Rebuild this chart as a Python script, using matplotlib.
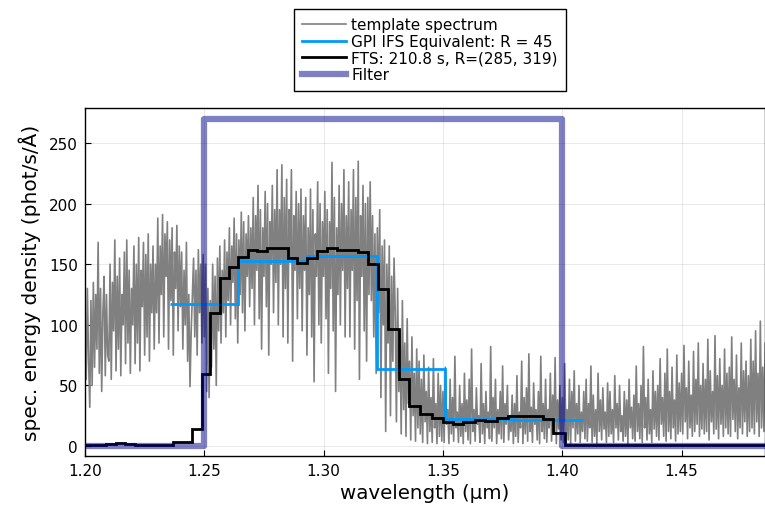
import numpy as np
import matplotlib
matplotlib.use("Agg")
import matplotlib.pyplot as plt

## template spectrum (one row = 0.01 um)
wl_start = 1.20
wl_step = 0.0005
template_flux = [
    100, 55, 130, 70, 32, 120, 50, 135, 65, 125, 80, 168, 60, 130, 45, 110, 140, 58, 125, 75,
    70, 150, 55, 135, 95, 170, 62, 140, 80, 155, 58, 125, 100, 160, 68, 170, 85, 145, 60, 130,
    100, 165, 68, 150, 85, 172, 62, 145, 115, 168, 75, 158, 90, 175, 70, 150, 110, 165, 80, 150,
    110, 188, 85, 165, 125, 191, 90, 175, 140, 185, 80, 170, 120, 180, 75, 160, 130, 182, 95, 165,
    115, 160, 80, 145, 100, 168, 70, 125, 49, 95, 125, 155, 90, 145, 75, 162, 110, 150, 85, 158,
    90, 150, 45, 130, 40, 120, 65, 150, 80, 140, 50, 155, 95, 165, 85, 145, 110, 170, 90, 160,
    120, 180, 100, 165, 135, 188, 105, 175, 85, 170, 125, 193, 110, 185, 95, 175, 140, 190, 115, 180,
    130, 205, 100, 190, 145, 215, 105, 195, 80, 180, 140, 210, 115, 200, 75, 185, 150, 215, 110, 195,
    135, 228, 100, 195, 150, 232, 90, 205, 130, 220, 85, 195, 155, 228, 70, 190, 145, 210, 105, 200,
    130, 212, 95, 190, 145, 205, 75, 180, 125, 212, 90, 195, 53, 175, 140, 218, 100, 200, 85, 185,
    140, 210, 105, 195, 60, 185, 130, 234, 95, 205, 45, 180, 125, 215, 100, 200, 145, 228, 90, 190,
    130, 218, 90, 195, 145, 228, 80, 205, 120, 235, 55, 190, 140, 215, 95, 200, 70, 205, 125, 218,
    120, 190, 90, 175, 60, 180, 110, 195, 40, 165, 100, 170, 12, 150, 85, 165, 25, 140, 70, 155,
    110, 20, 130, 45, 95, 10, 120, 30, 85, 8, 105, 35, 70, 5, 90, 25, 60, 4, 80, 15,
    70, 10, 55, 3, 75, 20, 45, 2, 65, 12, 40, 3, 72, 15, 35, 2, 60, 8, 50, 4,
    45, 3, 65, 18, 30, 2, 55, 10, 40, 4, 74, 15, 28, 3, 50, 8, 35, 2, 60, 12,
    38, 5, 55, 2, 80, 12, 30, 4, 48, 18, 25, 3, 68, 10, 35, 2, 45, 15, 28, 6,
    82, 4, 40, 15, 55, 2, 30, 10, 45, 6, 66, 3, 35, 18, 50, 5, 25, 12, 42, 2,
    35, 8, 58, 3, 28, 15, 70, 2, 40, 10, 48, 4, 76, 12, 32, 3, 52, 18, 30, 5,
    45, 2, 74, 12, 35, 6, 55, 3, 30, 15, 60, 4, 42, 10, 73, 2, 38, 14, 50, 5,
    40, 3, 68, 12, 30, 5, 55, 2, 45, 15, 62, 4, 35, 10, 50, 3, 28, 12, 45, 6,
    55, 4, 35, 15, 66, 3, 42, 8, 30, 2, 60, 12, 38, 5, 48, 14, 28, 3, 52, 8,
    45, 10, 30, 3, 58, 15, 35, 5, 50, 12, 25, 4, 45, 8, 38, 2, 55, 15, 32, 6,
    42, 4, 66, 12, 35, 6, 50, 3, 82, 15, 40, 5, 55, 10, 30, 3, 62, 14, 45, 8,
    50, 5, 72, 18, 40, 8, 60, 4, 80, 12, 45, 6, 65, 15, 38, 4, 75, 10, 52, 12,
    60, 10, 83, 20, 48, 6, 70, 15, 42, 8, 78, 12, 55, 18, 85, 8, 50, 14, 68, 10,
    55, 12, 88, 5, 62, 20, 45, 10, 91, 14, 58, 6, 72, 18, 50, 8, 80, 15, 60, 10,
    65, 8, 90, 22, 55, 12, 75, 6, 48, 15, 85, 10, 62, 20, 70, 8, 58, 12, 88, 15,
    70, 10, 95, 20, 60, 8, 103, 15, 65, 12, 85, 18, 55, 10, 100, 12, 75, 20, 90, 14,
]
template_wl = wl_start + wl_step * np.arange(len(template_flux))

## GPI IFS equivalent (R = 45)
gpi_edges = [1.23562, 1.26424, 1.29290, 1.32223, 1.35085, 1.37935, 1.40881]
gpi_flux = [117.5, 152.5, 156.5, 63.5, 22.5, 21.7]

## FTS binned spectrum
fts_edges = [1.1969, 1.20092, 1.20490, 1.20888, 1.21286, 1.21685, 1.22083,
             1.22481, 1.22879, 1.23277, 1.23675, 1.24073, 1.24471, 1.24890,
             1.25238, 1.25657, 1.26034, 1.26424, 1.26843, 1.27195, 1.27614,
             1.28033, 1.28519, 1.28871, 1.29290, 1.29709, 1.30128, 1.30547,
             1.30966, 1.31452, 1.31871, 1.32290, 1.32709, 1.33170, 1.33589,
             1.34038, 1.34528, 1.34989, 1.35433, 1.35852, 1.36342, 1.36761,
             1.37252, 1.37738, 1.38228, 1.38718, 1.39205, 1.39624, 1.40114,
             1.40616, 1.41120, 1.41622, 1.42125, 1.42628, 1.43131, 1.43634,
             1.44136, 1.44639, 1.45142, 1.45645, 1.46148, 1.46651, 1.47154,
             1.47656, 1.48159, 1.48662]
fts_flux = [1.0, 1.0, 1.2, 1.8, 2.3, 2.0, 1.0, 0.8, 1.0, 1.2, 3.0, 3.2,
            14, 59, 110, 139, 148, 156, 162, 161, 163, 163,
            155, 151, 155, 161, 163, 162, 162, 160, 150,
            129.5, 96.5, 55, 33, 26, 23, 20, 18, 20, 21.5, 21, 23, 25, 25, 25, 22, 10.7,
            0.6, 0.8, 0.5, 1.0, 0.7, 1.2, 1.0, 0.6, 0.8, 0.5, 0.7, 0.9, 0.6, 0.8, 1.0, 0.7, 0.9]

## filter bandpass
filter_edges = [1.19, 1.25, 1.40, 1.50]
filter_level = [0, 270, 0]

x_ticks = [1.20, 1.25, 1.30, 1.35, 1.40, 1.45]
y_ticks = [0, 50, 100, 150, 200, 250]

fig = plt.figure(figsize=(7.65, 5.1), dpi=100)
ax = fig.add_axes([85 / 765, 53 / 510, 680 / 765, 348 / 510])

ax.plot(template_wl, template_flux, color="#808080", lw=1.2, zorder=2,
        label="template spectrum")
ax.stairs(gpi_flux, gpi_edges, baseline=None, color="#009afa", lw=2.0, zorder=3,
          label="GPI IFS Equivalent: R = 45")
ax.stairs(fts_flux, fts_edges, baseline=None, color="black", lw=2.0, zorder=4,
          label="FTS: 210.8 s, R=(285, 319)")
ax.stairs(filter_level, filter_edges, baseline=None, color="#00008b", alpha=0.5,
          lw=4.5, joinstyle="round", zorder=5, label="Filter")

ax.set_xlim(1.20, 1.48495)
ax.set_ylim(-8.25, 278.9)
ax.set_xticks(x_ticks)
ax.set_xticklabels(["%.2f" % t for t in x_ticks])
ax.set_yticks(y_ticks)
ax.tick_params(direction="in", length=4, width=0.8, labelsize=11, pad=5)
ax.grid(True, color="black", alpha=0.1, lw=0.6)
for s in ax.spines.values():
    s.set_linewidth(1.0)

ax.set_xlabel("wavelength (µm)", fontsize=14.3, labelpad=4)
ax.set_ylabel("spec. energy density (phot/s/Å)", fontsize=14.5, labelpad=6)

leg = ax.legend(loc="upper center", bbox_to_anchor=(430 / 765, 1 - 10 / 510),
                bbox_transform=fig.transFigure, fontsize=11, fancybox=False,
                edgecolor="black", framealpha=1.0, borderpad=0.55, labelspacing=0.11,
                handlelength=2.9, handletextpad=0.33, borderaxespad=0)
leg.get_frame().set_linewidth(1.0)

fig.savefig("out.png", dpi=100)
